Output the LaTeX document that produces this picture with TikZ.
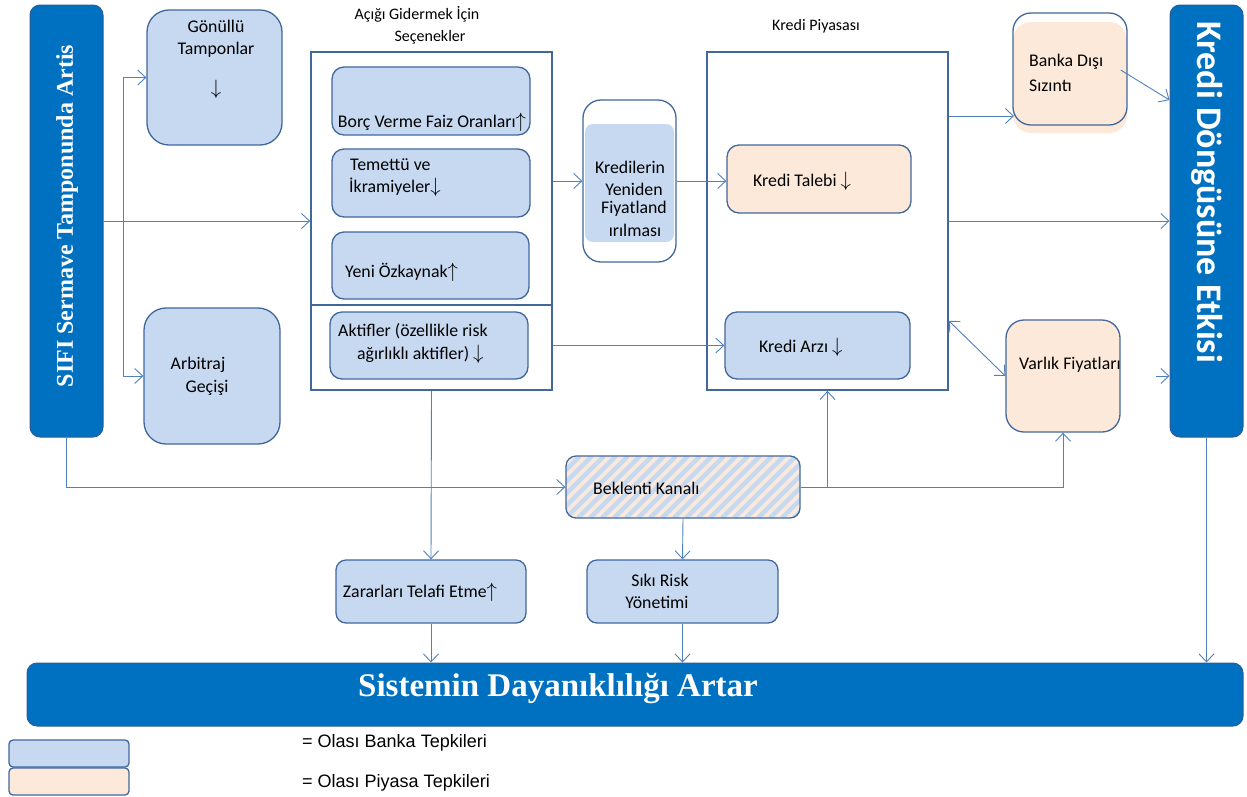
\documentclass[tikz,border=0pt]{standalone}
\usepackage{fontspec}
\setmainfont{Carlito}
\newfontfamily\tnr{Liberation Serif}
\newfontfamily\arl{Liberation Sans}
\usetikzlibrary{arrows.meta,calc}
\definecolor{bankc}{HTML}{C6D9F1}
\definecolor{mktc}{HTML}{FDE9D9}
\definecolor{bordc}{HTML}{41679B}
\definecolor{linec}{HTML}{4F81BD}
\definecolor{bigblue}{HTML}{0070C0}
\definecolor{bigbord}{HTML}{2E5D95}
\newcommand\myupar{\smash{\scalebox{1.2}{$\uparrow$}}}
\newcommand\mydnar{\smash{\scalebox{1.2}{$\downarrow$}}}
\begin{document}
\begin{tikzpicture}[x=1pt,y=-1pt,
  font=\fontsize{17.8}{21}\selectfont,
  box/.style={draw=bordc,line width=1.3pt,inner sep=0pt,rounded corners=12pt},
  bank/.style={box,fill=bankc},
  mkt/.style={box,fill=mktc},
  frame/.style={draw=bordc,line width=1.7pt,inner sep=0pt},
  bar/.style={draw=bigbord,fill=bigblue,line width=1pt,rounded corners=10pt,inner sep=0pt},
  conn/.style={draw=linec,line width=0.9pt,-{Straight Barb[length=8pt,width=15pt]}},
  conn2/.style={draw=linec,line width=0.9pt,{Straight Barb[length=8pt,width=15pt]}-{Straight Barb[length=8pt,width=15pt]}},
  plain/.style={draw=linec,line width=0.9pt},
  ttl/.style={inner sep=0pt,font=\fontsize{16}{19}\selectfont},
  txt/.style={inner sep=0pt},
  ltxt/.style={inner sep=0pt,anchor=west}]
\useasboundingbox (0,0) rectangle (1247,796);

% left bar
\node[bar,minimum width=73pt,minimum height=432pt] (sifi) at (66.5,221) {};
\node[txt,rotate=90,text=white,font=\tnr\bfseries\fontsize{24}{28}\selectfont] at (67,216) {SIFI Sermave Tamponunda Artis};

% Gonullu
\node[bank,rounded corners=22pt,minimum width=135pt,minimum height=135pt] (gon) at (214.5,77.5) {};
\node[txt] at (216,26) {Gönüllü};
\node[txt] at (216,50) {Tamponlar};
\node[txt] at (216,94) {\mydnar};

% Arbitraj
\node[bank,rounded corners=22pt,minimum width=136pt,minimum height=136pt] (arb) at (212,376) {};
\node[txt] at (198,365) {Arbitraj};
\node[txt] at (207,388) {Geçişi};

% options frame
\node[ttl] at (417,14) {Açığı Gidermek İçin};
\node[ttl] at (430,37) {Seçenekler};
\node[frame,minimum width=241pt,minimum height=338pt] (opt) at (431.5,221) {};
\draw[draw=bordc,line width=1.7pt] (opt.west |- 0,305) -- (opt.east |- 0,305);

\node[bank,minimum width=198pt,minimum height=68pt] (borc) at (431,101) {};
\node[txt] at (432,123) {Borç Verme Faiz Oranları\myupar};
\node[bank,minimum width=198pt,minimum height=68pt] (tem) at (431,183) {};
\node[ltxt,align=left,font=\fontsize{17.8}{22}\selectfont] at (349,177) {\hspace{1pt}Temettü ve\\İkramiyeler\mydnar};
\node[bank,minimum width=197pt,minimum height=67pt] (yeni) at (430.5,265.5) {};
\node[ltxt] at (345,272) {Yeni Özkaynak\myupar};
\node[bank,minimum width=198pt,minimum height=67pt] (akt) at (429,345.5) {};
\node[ltxt,align=left,font=\fontsize{17.8}{23}\selectfont] at (338,343.5) {Aktifler (özellikle risk\\\hspace{19pt}ağırlıklı aktifler) \mydnar};

% Kredilerin
\node[box,fill=white,rounded corners=18pt,minimum width=93pt,minimum height=162pt] (kred) at (629.5,181) {};
\fill[bankc,rounded corners=8pt] (585,124) rectangle (674,242);
\node[txt] at (630,167) {Kredilerin};
\node[txt] at (634,189) {Yeniden};
\node[txt] at (634,209) {Fiyatland};
\node[txt] at (635,230) {ırılması};

% Kredi piyasasi
\node[ttl] at (816,26) {Kredi Piyasası};
\node[frame,minimum width=241pt,minimum height=338pt] (kp) at (827.5,221) {};
\node[mkt,minimum width=184pt,minimum height=68pt] (kt) at (819,179) {};
\node[ltxt] at (753,180) {Kredi Talebi \mydnar};
\node[bank,minimum width=185pt,minimum height=67pt] (ka) at (817.5,345.5) {};
\node[ltxt] at (759,346) {Kredi Arzı \mydnar};

% Banka disi
\fill[mktc,rounded corners=18pt] (1013,22) rectangle (1127,133);
\node[box,rounded corners=18pt,minimum width=114pt,minimum height=112pt] (bds) at (1070,69) {};
\node[ltxt] at (1029,62) {Banka Dışı};
\node[ltxt] at (1029,86) {Sızıntı};

% Varlik
\node[mkt,rounded corners=18pt,minimum width=114pt,minimum height=112pt] (vf) at (1063,376) {};
\node[ltxt] at (1019,365) {Varlık Fiyatları};

% right bar
\node[bar,minimum width=73pt,minimum height=432pt] (kde) at (1206.5,221) {};
\node[txt,rotate=-90,text=white,font=\bfseries\fontsize{36}{40}\selectfont] at (1207,192) {Kredi Döngüsüne Etkisi};

% Beklenti
\begin{scope}
\clip[rounded corners=10pt] (566,456) rectangle (800,518);
\fill[mktc] (566,456) rectangle (800,518);
\foreach \i in {-6,...,20} \draw[bankc,line width=4.5pt] (566+\i*12,518) -- ++(62,-62);
\end{scope}
\node[box,rounded corners=10pt,minimum width=234pt,minimum height=62pt] (bek) at (683,487) {};
\node[ltxt] at (593,488) {Beklenti Kanalı};

% lower boxes
\node[bank,rounded corners=10pt,minimum width=190pt,minimum height=63pt] (zar) at (431,591.5) {};
\node[txt] at (420,591) {Zararları Telafi Etme\myupar};
\node[bank,rounded corners=10pt,minimum width=191pt,minimum height=63pt] (sik) at (682.5,591.5) {};
\node[txt] at (660,580) {Sıkı Risk};
\node[txt] at (657,602) {Yönetimi};

% bottom bar
\node[bar,minimum width=1216pt,minimum height=63pt] (sys) at (635,694.5) {};
\node[txt,text=white,font=\tnr\bfseries\fontsize{33}{38}\selectfont] at (558,689) {Sistemin Dayanıklılığı Artar};

% legend
\node[bank,rounded corners=4pt,minimum width=120pt,minimum height=27pt] (leg1) at (69,753.5) {};
\node[mkt,rounded corners=4pt,minimum width=120pt,minimum height=27pt] (leg2) at (69,781.5) {};
\node[ltxt,font=\arl\fontsize{18}{21}\selectfont] at (302,743) {= Olası Banka Tepkileri};
\node[ltxt,font=\arl\fontsize{18}{21}\selectfont] at (302,783) {= Olası Piyasa Tepkileri};

% connectors
\coordinate (br) at (123,221);
\draw[conn] (sifi.east) -- (opt.west);
\draw[plain] (br |- gon.west) -- (br |- arb.west);
\draw[conn] (br |- gon.west) -- (gon.west);
\draw[conn] (br |- arb.west) -- (arb.west);
\draw[conn] (sifi.south) |- (bek.west);
\draw[conn] (opt.east |- kred.west) -- (kred.west);
\draw[conn] (kred.east) -- (kred.east -| kt.west);
\draw[conn] (opt.east |- ka.west) -- (ka.west);
\coordinate (bdsin) at (1014,116);
\draw[conn] (kp.east |- bdsin) -- (bdsin);
\draw[conn] ($(bds.east)+(-7,1)$) -- ($(kde.west)+(0,-121)$);
\draw[conn] (kp.east) -- (kde.west);
\draw[conn2] ($(kp.south east)+(0,-70)$) -- (vf.west);
\draw[conn] ($(kde.west)+(-14,155)$) -- ($(kde.west)+(0,155)$);
\draw[conn] (opt.south) -- (zar.north);
\draw[conn] (bek.south) -- (sik.north);
\draw[conn] (bek.east) -| (vf.south);
\draw[conn] (bek.east -| kp.south) -- (kp.south);
\draw[conn] (zar.south) -- (zar.south |- sys.north);
\draw[conn] (sik.south) -- (sik.south |- sys.north);
\draw[conn] (kde.south) -- (kde.south |- sys.north);
\end{tikzpicture}
\end{document}
